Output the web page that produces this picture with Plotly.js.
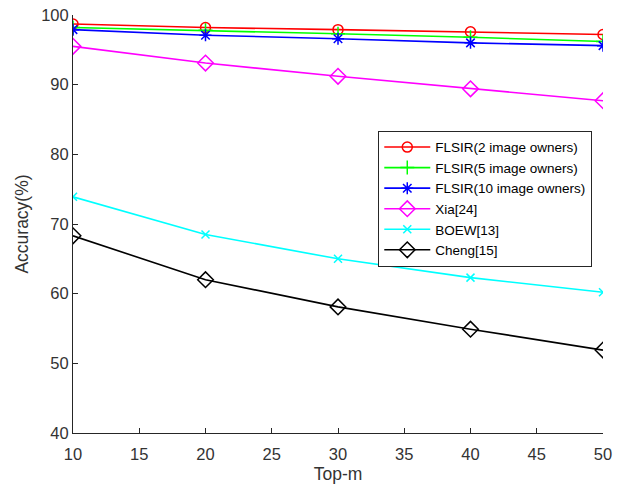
<!DOCTYPE html>
<html><head><meta charset="utf-8">
<script src="https://cdn.plot.ly/plotly-3.0.1.min.js"></script>
<style>html,body{margin:0;padding:0;background:#fff}#chart{width:625px;height:484px}</style>
</head><body><div id="chart"></div>
<script>
const topM = [10, 20, 30, 40, 50];
const flsir2 = [98.7, 98.2, 97.9, 97.6, 97.2];
const flsir5 = [98.2, 97.8, 97.3, 96.8, 96.2];
const flsir10 = [97.9, 97.1, 96.6, 96.0, 95.6];
const xia = [95.5, 93.1, 91.2, 89.4, 87.7];
const boew = [73.9, 68.5, 65.0, 62.3, 60.2];
const cheng = [68.3, 62.0, 58.1, 54.9, 51.9];
const names = ['FLSIR(2 image owners)', 'FLSIR(5 image owners)', 'FLSIR(10 image owners)', 'Xia[24]', 'BOEW[13]', 'Cheng[15]'];

function tr(y, name, color, sym, size) {
  return {x: topM, y: y, name: name, type: 'scatter', mode: 'lines+markers',
    line: {color: color, width: 1.6},
    marker: {symbol: sym, size: size, color: color, line: {color: color, width: 1.5}}};
}
const data = [
  tr(flsir2, names[0], '#ff0000', 'circle-open', 10),
  tr(flsir5, names[1], '#00ff00', 'cross-thin-open', 10),
  tr(flsir10, names[2], '#0000ff', 'asterisk-open', 10),
  tr(xia, names[3], '#ff00ff', 'diamond-open', 12),
  tr(boew, names[4], '#00ffff', 'x-thin-open', 8),
  tr(cheng, names[5], '#000000', 'diamond-open', 12)
];
const axcol = '#262626';
const gray = '#8c8c8c';
const layout = {
  width: 625, height: 484,
  margin: {l: 73, r: 22, t: 15, b: 51},
  paper_bgcolor: '#fff', plot_bgcolor: '#fff',
  font: {family: 'Liberation Sans, Arial, sans-serif', size: 16.5, color: '#333'},
  xaxis: {range: [10, 50], dtick: 5, tick0: 10, ticks: 'inside', ticklen: 5, tickcolor: axcol,
    showline: true, linecolor: axcol, linewidth: 1, mirror: false, showgrid: false, zeroline: false,
    ticklabelstandoff: 6,
    title: {text: 'Top-m', font: {size: 17.5}, standoff: 9}},
  yaxis: {range: [40, 100], dtick: 10, ticks: 'inside', ticklen: 5, tickcolor: axcol,
    showline: true, linecolor: axcol, linewidth: 1, mirror: false, showgrid: false, zeroline: false,
    title: {text: 'Accuracy(%)', font: {size: 17.5}, standoff: 8}},
  xaxis2: {overlaying: 'x', side: 'top', range: [10, 50], dtick: 5, tick0: 10, ticks: 'inside', ticklen: 5,
    tickcolor: gray, showline: true, linecolor: gray, linewidth: 1, showticklabels: false,
    showgrid: false, zeroline: false},
  yaxis2: {overlaying: 'y', side: 'right', range: [40, 100], dtick: 10, ticks: 'inside', ticklen: 5,
    tickcolor: gray, showline: true, linecolor: gray, linewidth: 1, showticklabels: false,
    showgrid: false, zeroline: false},
  showlegend: true,
  legend: {x: 0.576, y: 0.723, xanchor: 'left', yanchor: 'top', bgcolor: '#fff',
    bordercolor: axcol, borderwidth: 1, font: {size: 13.5, color: '#000'}, itemwidth: 46,
    tracegroupgap: 0}
};
Plotly.newPlot('chart', data, layout, {displayModeBar: false, staticPlot: true});
</script></body></html>
